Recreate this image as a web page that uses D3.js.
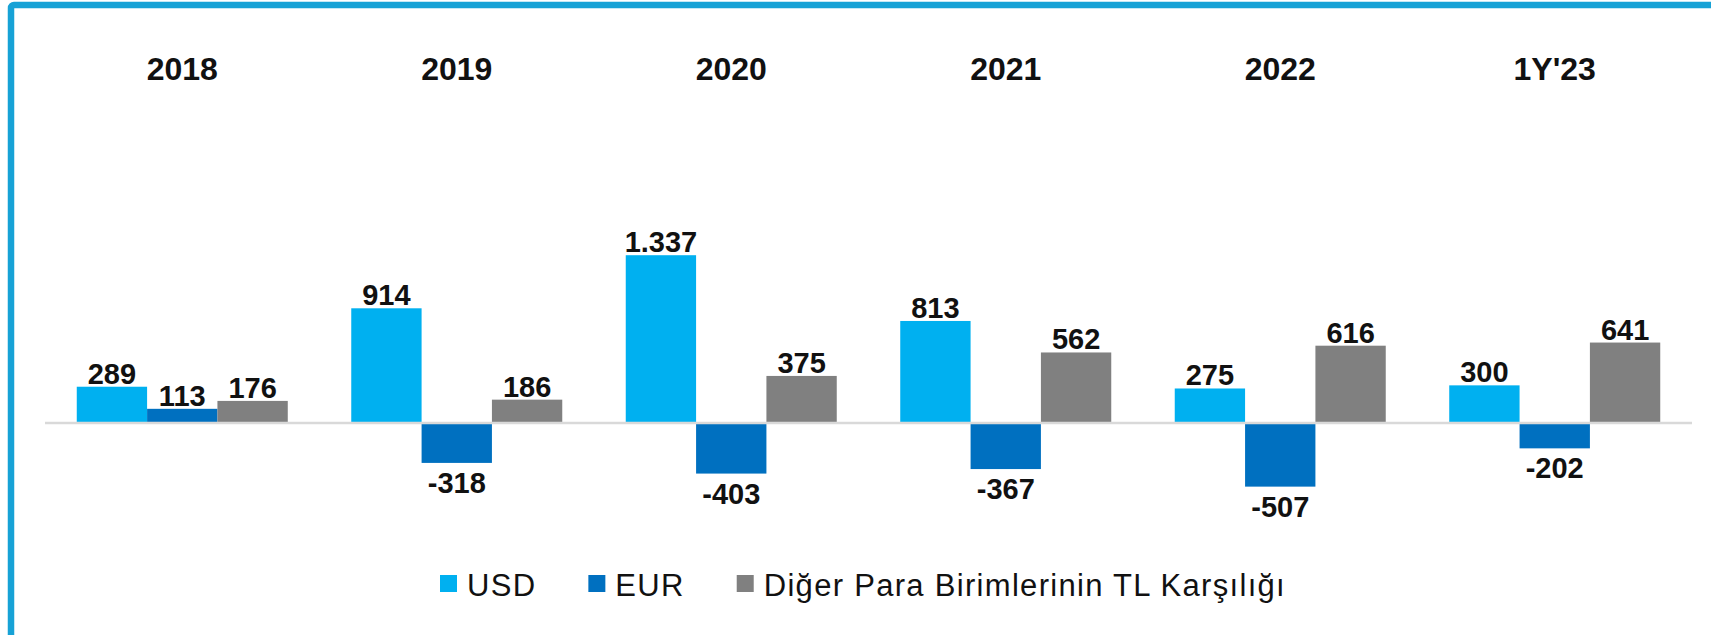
<!DOCTYPE html>
<html>
<head>
<meta charset="utf-8">
<script src="https://cdn.jsdelivr.net/npm/d3@7"></script>
<style>
  body { margin: 0; background: #fff; }
  svg { display: block; font-family: "Liberation Sans", Arial, sans-serif; }
</style>
</head>
<body>
<svg id="chart" width="1711" height="635"></svg>
<script>
// data
let years = ['2018', '2019', '2020', '2021', '2022', "1Y'23"];
let seriesNames = ['USD', 'EUR', 'Diğer Para Birimlerinin TL Karşılığı'];
let usd = [289, 914, 1337, 813, 275, 300];
let eur = [113, -318, -403, -367, -507, -202];
let other = [176, 186, 375, 562, 616, 641];
let colors = ['#00b0f0', '#0070c0', '#808080'];

let svg = d3.select('#chart');
let fmt = d3.formatLocale({decimal: ',', thousands: '.', grouping: [3], currency: ['', ''], minus: '-'}).format(',d');

// frame (only top and left show)
svg.append('rect')
    .attr('x', 11).attr('y', 5)
    .attr('width', 1800).attr('height', 800)
    .attr('rx', 3)
    .attr('fill', 'none')
    .attr('stroke', '#17a2d6')
    .attr('stroke-width', 6.5);

let x = d3.scaleBand().domain(years).range([45, 1692]).paddingInner(0.2313).paddingOuter(0.1157);
let xs = d3.scaleBand().domain(seriesNames).range([0, x.bandwidth()]);
let y = d3.scaleLinear().domain([-600, 1500]).range([423 + 600 * 0.1255, 423 - 1500 * 0.1255]);

let rows = [];
years.forEach(function(yr, i) {
    rows.push({year: yr, s: 0, v: usd[i]});
    rows.push({year: yr, s: 1, v: eur[i]});
    rows.push({year: yr, s: 2, v: other[i]});
});

// year headers
svg.append('g').selectAll('text')
    .data(years)
    .join('text')
    .attr('x', d => x(d) + x.bandwidth() / 2)
    .attr('y', 80)
    .attr('text-anchor', 'middle')
    .attr('font-size', 32)
    .attr('font-weight', 'bold')
    .attr('fill', '#111')
    .text(d => d);

// bars
svg.append('g').selectAll('rect')
    .data(rows)
    .join('rect')
    .attr('x', d => x(d.year) + xs(seriesNames[d.s]))
    .attr('width', xs.bandwidth())
    .attr('y', d => y(Math.max(0, d.v)))
    .attr('height', d => Math.abs(y(d.v) - y(0)))
    .attr('fill', d => colors[d.s]);

// zero line
svg.append('line')
    .attr('x1', 45).attr('x2', 1692)
    .attr('y1', y(0)).attr('y2', y(0))
    .attr('stroke', '#d9d9d9')
    .attr('stroke-width', 2.5);

// value labels
svg.append('g').selectAll('text')
    .data(rows)
    .join('text')
    .attr('x', d => x(d.year) + xs(seriesNames[d.s]) + xs.bandwidth() / 2)
    .attr('y', d => d.v >= 0 ? y(d.v) - 3 : y(d.v) + 30)
    .attr('text-anchor', 'middle')
    .attr('font-size', 29)
    .attr('font-weight', 'bold')
    .attr('fill', '#111')
    .text(d => fmt(d.v));

// legend
let lx = 440;
seriesNames.forEach(function(name, i) {
    let g = svg.append('g');
    g.append('rect')
        .attr('x', lx).attr('y', 575)
        .attr('width', 17).attr('height', 17)
        .attr('fill', colors[i]);
    let t = g.append('text')
        .attr('x', lx + 27)
        .attr('y', 596)
        .attr('font-size', 31)
        .attr('letter-spacing', 1.3)
        .attr('fill', '#111')
        .text(name);
    let w = t.node().getComputedTextLength();
    lx += 27 + w + 52;
});
</script>
</body>
</html>
